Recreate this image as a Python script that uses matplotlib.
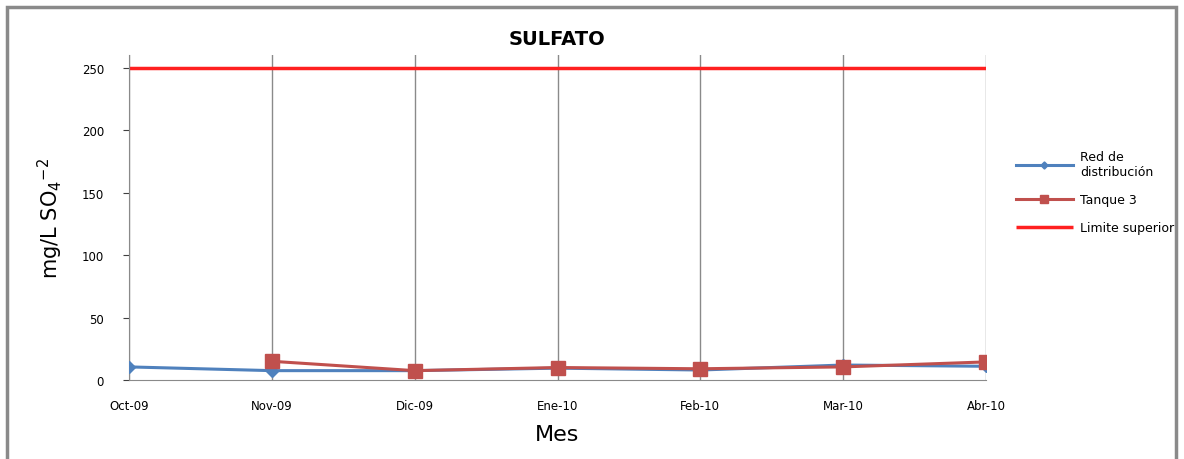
import matplotlib
matplotlib.use("Agg")
import matplotlib.pyplot as plt
import numpy as np
from matplotlib.patches import Rectangle

meses = ["Oct-09", "Nov-09", "Dic-09", "Ene-10", "Feb-10", "Mar-10", "Abr-10"]
red_distribucion = [10.5, 7.5, 7.5, 9.5, 8.0, 12.0, 11.0]
tanque_3 = [np.nan, 15.0, 7.5, 10.0, 9.0, 10.5, 14.5]
limite_superior = [250] * 7

plt.rcParams['font.family'] = ['DejaVu Sans']

fig = plt.figure(figsize=(11.84, 4.60), dpi=100)
ax = fig.add_axes([129 / 1184, 79 / 460, 857 / 1184, 325 / 460])

x = np.arange(len(meses))
ax.plot(x, red_distribucion, color="#4F81BD", lw=2.2, marker="D", ms=6,
        label="Red de\ndistribución", zorder=3)
ax.plot(x, tanque_3, color="#C0504D", lw=2.2, marker="s", ms=10,
        label="Tanque 3", zorder=4)
ax.plot(x, limite_superior, color="#FF2020", lw=2.5, label="Limite superior", zorder=2,
        solid_capstyle="butt")

ax.set_xlim(0, 6)
ax.set_ylim(0, 260.5)
ax.set_yticks([0, 50, 100, 150, 200, 250])
ax.set_xticks(x)
ax.set_xticklabels(meses)
ax.tick_params(axis="both", labelsize=8.5, colors="#404040", labelcolor="black")
ax.tick_params(axis="x", length=0, pad=14)
ax.tick_params(axis="y", length=4, direction="out", pad=14)
ax.grid(axis="x", color="#8a8a8a", lw=1)
for s in ["top", "right"]:
    ax.spines[s].set_visible(False)
for s in ["left", "bottom"]:
    ax.spines[s].set_color("#8a8a8a")

ax.set_title("SULFATO", fontsize=14, fontweight="bold", pad=8)
ax.set_xlabel("Mes", fontsize=16, labelpad=8)
ax.set_ylabel(r"mg/L SO$_4$$^{-2}$", fontsize=15, labelpad=12)

fig.legend(loc="upper left", bbox_to_anchor=(1005 / 1184, 1 - 140 / 460),
           frameon=False, fontsize=9, handlelength=4.5, labelspacing=1.2,
           markerscale=0.6, handletextpad=0.6)

fig.patches.append(Rectangle((7 / 1184, -0.1), 1169 / 1184, 1.1 - 8 / 460,
                             transform=fig.transFigure, fill=False,
                             edgecolor="#8a8a8a", lw=2.5))

fig.savefig("out.png", dpi=100)
